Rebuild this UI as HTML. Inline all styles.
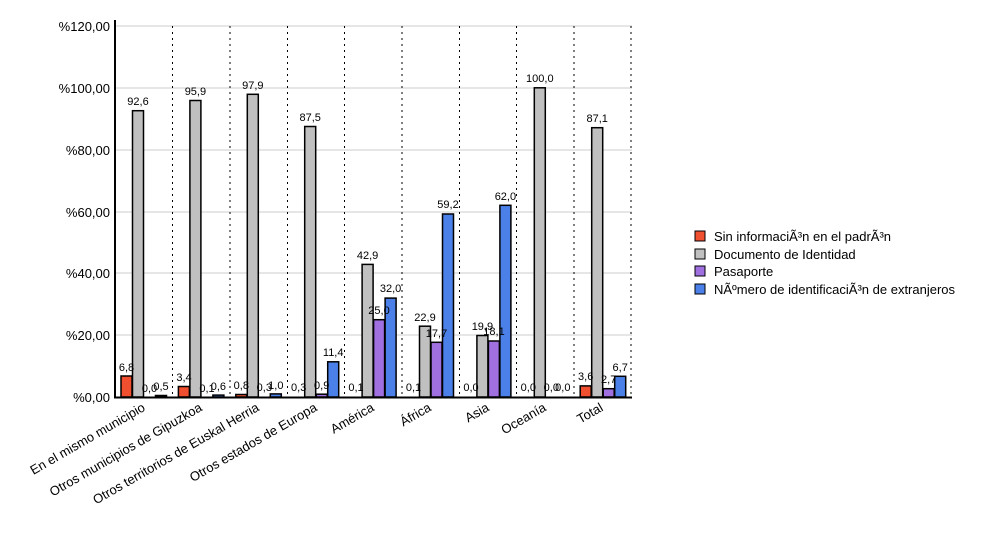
<!DOCTYPE html>
<html><head><meta charset="utf-8"><style>body{margin:0;background:#fff}svg{font-family:"Liberation Sans",sans-serif}</style></head><body>
<svg width="1000" height="550" xmlns="http://www.w3.org/2000/svg">
<g stroke="#ccc" stroke-width="1">
<line x1="115" y1="26" x2="632" y2="26"/><line x1="115" y1="88" x2="632" y2="88"/><line x1="115" y1="150" x2="632" y2="150"/><line x1="115" y1="212" x2="632" y2="212"/><line x1="115" y1="273" x2="632" y2="273"/><line x1="115" y1="335" x2="632" y2="335"/>
</g>
<g stroke="#000" stroke-dasharray="2,4" stroke-width="1">
<line x1="172.5" y1="26" x2="172.5" y2="397"/><line x1="230" y1="26" x2="230" y2="397"/><line x1="287.5" y1="26" x2="287.5" y2="397"/><line x1="344.5" y1="26" x2="344.5" y2="397"/><line x1="402" y1="26" x2="402" y2="397"/><line x1="459.5" y1="26" x2="459.5" y2="397"/><line x1="516.5" y1="26" x2="516.5" y2="397"/><line x1="574" y1="26" x2="574" y2="397"/><line x1="631" y1="26" x2="631" y2="397"/>
</g>
<g font-size="13" text-anchor="end" fill="#000">
<text x="110" y="31">%120,00</text><text x="110" y="93">%100,00</text><text x="110" y="155">%80,00</text><text x="110" y="217">%60,00</text><text x="110" y="278">%40,00</text><text x="110" y="340">%20,00</text><text x="110" y="402">%0,00</text>
</g>
<g stroke="#000" stroke-width="1.5">
<rect x="121" y="376" width="11" height="21" fill="#f05030"/><rect x="132.5" y="110.7" width="11" height="286.3" fill="#c0c0c0"/><rect x="155.5" y="395.5" width="11" height="1.5" fill="#4a80e8"/>
<rect x="178.4" y="386.5" width="11" height="10.5" fill="#f05030"/><rect x="189.9" y="100.5" width="11" height="296.5" fill="#c0c0c0"/><rect x="212.9" y="395.1" width="11" height="1.9" fill="#4a80e8"/>
<rect x="235.8" y="394.5" width="11" height="2.5" fill="#f05030"/><rect x="247.3" y="94.3" width="11" height="302.7" fill="#c0c0c0"/><rect x="270.3" y="393.9" width="11" height="3.1" fill="#4a80e8"/>
<rect x="304.7" y="126.5" width="11" height="270.5" fill="#c0c0c0"/><rect x="316.2" y="394.2" width="11" height="2.8" fill="#a070e0"/><rect x="327.7" y="361.8" width="11" height="35.2" fill="#4a80e8"/>
<rect x="362.1" y="264.4" width="11" height="132.6" fill="#c0c0c0"/><rect x="373.6" y="319.7" width="11" height="77.3" fill="#a070e0"/><rect x="385.1" y="298.1" width="11" height="98.9" fill="#4a80e8"/>
<rect x="419.5" y="326.2" width="11" height="70.8" fill="#c0c0c0"/><rect x="431" y="342.3" width="11" height="54.7" fill="#a070e0"/><rect x="442.5" y="214" width="11" height="183" fill="#4a80e8"/>
<rect x="476.9" y="335.5" width="11" height="61.5" fill="#c0c0c0"/><rect x="488.4" y="341" width="11" height="56" fill="#a070e0"/><rect x="499.9" y="205.3" width="11" height="191.7" fill="#4a80e8"/>
<rect x="534.3" y="87.8" width="11" height="309.2" fill="#c0c0c0"/>
<rect x="580.2" y="385.9" width="11" height="11.1" fill="#f05030"/><rect x="591.7" y="127.7" width="11" height="269.3" fill="#c0c0c0"/><rect x="603.2" y="388.7" width="11" height="8.3" fill="#a070e0"/><rect x="614.7" y="376.3" width="11" height="20.7" fill="#4a80e8"/>
</g>
<line x1="115" y1="20" x2="115" y2="398" stroke="#000" stroke-width="2"/>
<line x1="114" y1="397.5" x2="632" y2="397.5" stroke="#000" stroke-width="2"/>
<g font-size="11" text-anchor="middle" fill="#000">
<text x="126.5" y="371">6,8</text><text x="138" y="105">92,6</text><text x="149.5" y="392">0,0</text><text x="161" y="390">0,5</text>
<text x="184" y="381">3,4</text><text x="195.4" y="95">95,9</text><text x="207" y="392">0,1</text><text x="218.4" y="390">0,6</text>
<text x="241.3" y="389">0,8</text><text x="252.8" y="89">97,9</text><text x="264.3" y="391">0,3</text><text x="275.8" y="389">1,0</text>
<text x="298.7" y="391">0,3</text><text x="310.2" y="121">87,5</text><text x="321.7" y="389">0,9</text><text x="333.2" y="356">11,4</text>
<text x="356" y="391">0,1</text><text x="367.6" y="259">42,9</text><text x="379" y="314">25,0</text><text x="390.6" y="292">32,0</text>
<text x="413.5" y="391">0,1</text><text x="425" y="321">22,9</text><text x="436.5" y="337">17,7</text><text x="448" y="208">59,2</text>
<text x="471" y="391">0,0</text><text x="482.4" y="330">19,9</text><text x="494" y="335">18,1</text><text x="505.4" y="200">62,0</text>
<text x="528.3" y="391">0,0</text><text x="539.8" y="82">100,0</text><text x="551.3" y="391">0,0</text><text x="562.8" y="391">0,0</text>
<text x="585.7" y="380">3,6</text><text x="597.2" y="122">87,1</text><text x="608.7" y="383">2,7</text><text x="620.2" y="371">6,7</text>
</g>
<g font-size="13" text-anchor="end" fill="#000">
<text transform="translate(146,410) rotate(-30)">En el mismo municipio</text>
<text transform="translate(203,410) rotate(-30)">Otros municipios de Gipuzkoa</text>
<text transform="translate(260,410) rotate(-30)">Otros territorios de Euskal Herria</text>
<text transform="translate(318,410) rotate(-30)">Otros estados de Europa</text>
<text transform="translate(375,410) rotate(-30)">América</text>
<text transform="translate(432,410) rotate(-30)">África</text>
<text transform="translate(490,410) rotate(-30)">Asia</text>
<text transform="translate(547,410) rotate(-30)">Oceanía</text>
<text transform="translate(604,410) rotate(-30)">Total</text>
</g>
<g stroke="#000" stroke-width="1">
<rect x="695" y="231" width="10" height="10" fill="#f05030"/><rect x="695" y="249" width="10" height="10" fill="#c0c0c0"/><rect x="695" y="266" width="10" height="10" fill="#a070e0"/><rect x="695" y="284" width="10" height="10" fill="#4a80e8"/>
</g>
<g font-size="13" fill="#000">
<text x="714" y="241">Sin informaciÃ³n en el padrÃ³n</text>
<text x="714" y="259">Documento de Identidad</text>
<text x="714" y="276">Pasaporte</text>
<text x="714" y="294">NÃºmero de identificaciÃ³n de extranjeros</text>
</g>
</svg>
</body></html>
